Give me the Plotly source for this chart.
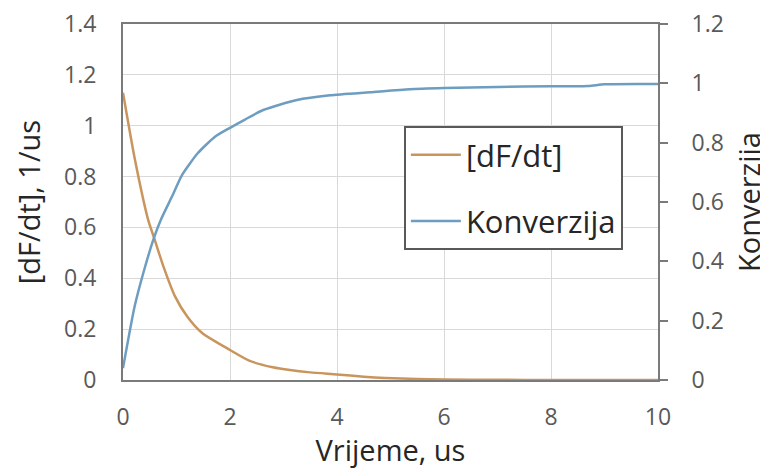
import plotly.graph_objects as go

# dF/dt series (left axis)
t_rate = [0, 0.22, 0.47, 0.58, 0.75, 0.97, 1.2, 1.48, 2.0, 2.37, 2.8, 3.12, 3.5, 4.0, 4.5, 4.9, 5.5, 6, 7, 8, 9, 10]
rate = [1.13, 0.87, 0.63, 0.56, 0.45, 0.33, 0.25, 0.185, 0.118, 0.075, 0.05, 0.039, 0.03, 0.022, 0.013, 0.008, 0.004, 0.002, 0.001, 0, 0, 0]

# Konverzija series (right axis)
t_conv = [0, 0.22, 0.41, 0.58, 0.72, 0.92, 1.1, 1.4, 1.72, 2.0, 2.28, 2.62, 3.25, 3.87, 4.62, 5.36, 6, 7, 8, 8.7, 9, 10]
conv = [0.04, 0.25, 0.38, 0.48, 0.545, 0.62, 0.69, 0.765, 0.82, 0.85, 0.878, 0.91, 0.944, 0.96, 0.97, 0.98, 0.984, 0.988, 0.99, 0.991, 0.997, 0.998]

names = ["[dF/dt]", "Konverzija"]
colors = ["#c9955c", "#6d9dc0"]

FONT = "Open Sans"
fig = go.Figure()
fig.add_trace(go.Scatter(x=t_rate, y=rate, mode="lines", name=names[0], legendgroup="a",
                         line=dict(color=colors[0], width=2.5, shape="spline", smoothing=0.6), yaxis="y"))
fig.add_trace(go.Scatter(x=t_conv, y=conv, mode="lines", name=names[1], legendgroup="b",
                         line=dict(color=colors[1], width=2.5, shape="spline", smoothing=0.6), yaxis="y2"))

fig.update_layout(
    width=760, height=461,
    margin=dict(l=115, r=110, t=16, b=89),
    paper_bgcolor="white", plot_bgcolor="white",
    font=dict(family=FONT, color="#404040"),
    xaxis=dict(range=[0, 10], dtick=2, tick0=0, showgrid=True, gridcolor="#d9d9d9", gridwidth=1,
               showline=True, linecolor="#7a7a7a", linewidth=2, mirror=True, zeroline=False,
               ticks="", tickfont=dict(size=23, color="#595959"), ticklabelstandoff=15,
               automargin=False, ticklabeloverflow="allow",
               title=dict(text="Vrijeme, us", font=dict(size=29, color="#262626"), standoff=1)),
    yaxis=dict(range=[0, 1.4], dtick=0.2, tick0=0, showgrid=True, gridcolor="#d9d9d9", gridwidth=1,
               showline=True, linecolor="#7a7a7a", linewidth=2, zeroline=False, ticks="",
               tickfont=dict(size=23, color="#595959"), ticklabelstandoff=20, automargin=False,
               ticklabeloverflow="allow",
               title=dict(text="[dF/dt], 1/us", font=dict(size=29, color="#262626"), standoff=15)),
    yaxis2=dict(range=[0, 1.2], dtick=0.2, tick0=0, overlaying="y", side="right", showgrid=False,
                showline=True, linecolor="#7a7a7a", linewidth=2, zeroline=False,
                ticks="outside", ticklen=8, tickcolor="#7a7a7a", tickwidth=2,
                tickfont=dict(size=23, color="#595959"), ticklabelstandoff=19, automargin=False,
                ticklabeloverflow="allow",
                title=dict(text="Konverzija", font=dict(size=29, color="#262626"), standoff=34)),
    legend=dict(x=0.525, y=0.713, xanchor="left", yanchor="top", bgcolor="white",
                bordercolor="#595959", borderwidth=2, font=dict(size=31, color="#262626"),
                tracegroupgap=23, itemwidth=50),
    showlegend=True,
)

fig.write_html("out.html")
